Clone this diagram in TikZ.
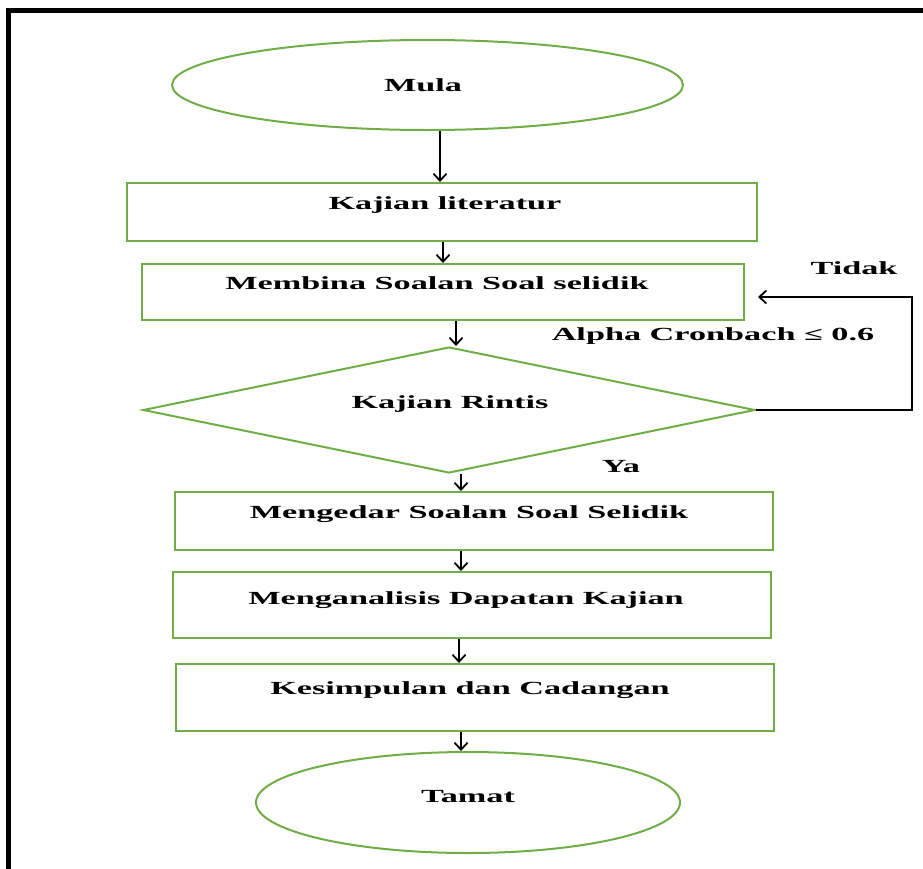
\documentclass[tikz,border=0pt]{standalone}
\usepackage{fontspec}
\usetikzlibrary{shapes.geometric,arrows.meta}
\newfontfamily\lblfont[FakeStretch=1.85]{Liberation Serif}
\definecolor{flowgreen}{RGB}{112,173,71}
\tikzset{
  box/.style={draw=flowgreen, line width=2pt, rectangle, inner sep=0pt},
  oval/.style={draw=flowgreen, line width=2pt, ellipse, inner sep=0pt},
  decision/.style={draw=flowgreen, line width=2pt, diamond, inner sep=0pt},
  lbl/.style={font=\lblfont\bfseries\fontsize{18.5}{20}\selectfont, inner sep=0pt, text=black},
  arr/.style={draw=black, line width=2pt, -{Straight Barb[length=7pt,width=13pt,line width=1.8pt]}}
}
\begin{document}
\begin{tikzpicture}[x=1pt,y=-1pt]
\useasboundingbox (0,0) rectangle (923,868);
% frame (only top and left edges visible)
\draw[line width=5pt] (8.5,875) -- (8.5,10.5) -- (930,10.5);

% shapes
\node[oval, minimum width=511pt, minimum height=90pt] (start) at (427.5,85) {};
\node[box, minimum width=630pt, minimum height=58pt] (n1) at (442,212) {};
\node[box, minimum width=602pt, minimum height=56pt] (n2) at (443,292) {};
\node[decision, minimum width=612pt, minimum height=126pt] (dia) at (449,410) {};
\node[box, minimum width=598pt, minimum height=58pt] (n4) at (474,521) {};
\node[box, minimum width=598pt, minimum height=66pt] (n5) at (472,605) {};
\node[box, minimum width=598pt, minimum height=67pt] (n6) at (475,697.5) {};
\node[oval, minimum width=424pt, minimum height=101pt] (end) at (468,802.5) {};

% texts
\node[lbl] (t0) at (423,85) {Mula};
\node[lbl] (t1) at (445,205) {Kajian literatur};
\node[lbl] (t2) at (437,283) {Membina Soalan Soal selidik};
\node[lbl] (t3) at (450,404) {Kajian Rintis};
\node[lbl] (t4) at (469,514) {Mengedar Soalan Soal Selidik};
\node[lbl] (t5) at (466,600) {Menganalisis Dapatan Kajian};
\node[lbl] (t6) at (470,690) {Kesimpulan dan Cadangan};
\node[lbl] (t7) at (468,797) {Tamat};
\node[lbl] (tidak) at (854,268) {Tidak};
\node[lbl] (alpha) at (713,336) {Alpha Cronbach ≤ 0.6};
\node[lbl] (ya) at (621,467) {Ya};

% connectors
\draw[arr] ([xshift=12.5pt]start.south) -- ([xshift=-2pt]n1.north);
\draw[arr] ([xshift=1pt]n1.south) -- (n2.north);
\draw[arr] ([xshift=13pt]n2.south) -- ([xshift=7pt]dia.north);
\draw[arr] ([xshift=12pt]dia.south) -- ([xshift=-13pt]n4.north);
\draw[arr] ([xshift=-13pt]n4.south) -- ([xshift=-11pt]n5.north);
\draw[arr] ([xshift=-13pt]n5.south) -- ([xshift=-16pt]n6.north);
\draw[arr] ([xshift=-14pt]n6.south) -- ([xshift=-7pt]end.north);
\coordinate (loopR) at (912,297);
\draw[arr] (dia.east) -- (dia.east -| loopR) -- (loopR) -- ([shift={(13,5)}]n2.east);
\end{tikzpicture}
\end{document}
